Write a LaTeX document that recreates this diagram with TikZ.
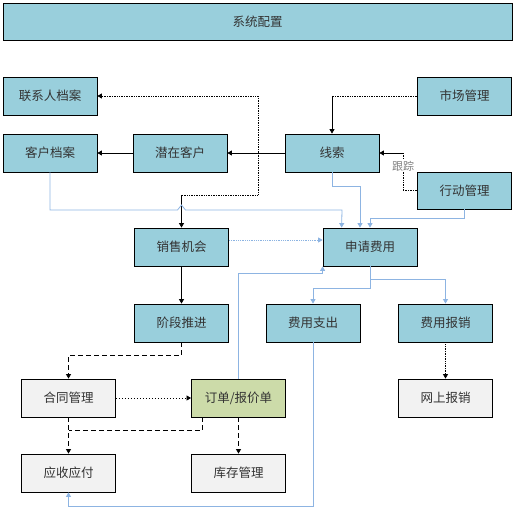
\documentclass[tikz,border=0pt]{standalone}
\usepackage{fontspec}
\newfontfamily\cjk{Noto Sans CJK SC}
\usetikzlibrary{arrows.meta,calc}
\definecolor{boxblue}{HTML}{99CFDC}
\definecolor{boxgray}{HTML}{F2F2F2}
\definecolor{boxgreen}{HTML}{CCDBA9}
\definecolor{linkblue}{HTML}{8DB4E2}
\definecolor{textgray}{HTML}{333333}
\tikzset{
    module/.style={rectangle, draw=black, line width=0.8pt, text=textgray, font=\cjk\fontsize{12.5}{14}\selectfont, minimum width=94pt, minimum height=38pt, inner sep=0pt, text centered},
    bluebox/.style={module, fill=boxblue},
    graybox/.style={module, fill=boxgray},
    greenbox/.style={module, fill=boxgreen},
    headarrow/.style={-{Triangle[length=4.5pt,width=5pt]}},
    solidlink/.style={draw=black, line width=0.7pt},
    dotlink/.style={draw=black, line width=0.7pt, densely dotted},
    looselink/.style={draw=black, line width=0.7pt, dash pattern=on 1pt off 2pt},
    dashlink/.style={draw=black, line width=0.8pt, dash pattern=on 5pt off 3pt},
    bluelink/.style={draw=linkblue, line width=0.8pt},
}
\begin{document}
\begin{tikzpicture}[x=1pt, y=-1pt]
    \useasboundingbox (0,0) rectangle (514,524);
    \node (sys) [bluebox, minimum width=509pt, minimum height=37pt] at (257.5,21.5) {系统配置};
    \node (lxr) [bluebox] at (50,96) {联系人档案};
    \node (khda) [bluebox] at (50,153) {客户档案};
    \node (qzkh) [bluebox] at (180,153) {潜在客户};
    \node (xs) [bluebox] at (332,153) {线索};
    \node (scgl) [bluebox] at (464.5,96) {市场管理};
    \node (xdgl) [bluebox, minimum height=37pt] at (464.5,190.5) {行动管理};
    \node (xsjh) [bluebox] at (181.5,247) {销售机会};
    \node (sqfy) [bluebox] at (370,247) {申请费用};
    \node (jdtj) [bluebox] at (181.5,323) {阶段推进};
    \node (fyzc) [bluebox] at (313,323) {费用支出};
    \node (fybx) [bluebox] at (445.5,323) {费用报销};
    \node (htgl) [graybox] at (68.5,398) {合同管理};
    \node (dd) [greenbox] at (238.5,398) {订单/报价单};
    \node (wsbx) [graybox] at (445.5,398) {网上报销};
    \node (ysyf) [graybox] at (68.5,473) {应收应付};
    \node (kcgl) [graybox] at (238.5,473) {库存管理};

    \coordinate (sc) at (scgl.west -| xs.north);
    \draw[dotlink] (scgl.west) -- (sc);
    \draw[solidlink, headarrow] (sc) -- (xs.north);
    \coordinate (gz) at (403,153);
    \draw[dotlink] (xdgl.west) -| (gz);
    \draw[solidlink, headarrow] (gz) -- (xs.east);
    \draw[solidlink, headarrow] (xs.west) -- (qzkh.east);
    \draw[solidlink, headarrow] (qzkh.west) -- (khda.east);
    \coordinate (br) at (258,153);
    \coordinate (jh) at (xsjh.north |- 0,195);
    \draw[dotlink, headarrow] (br) |- (lxr.east);
    \draw[dotlink] (br) |- (jh);
    \draw[solidlink, headarrow] (jh) -- (xsjh.north);

    \draw[bluelink, headarrow] (khda.south) |- (177.5,210) -- (181.5,205) -- (185.5,210) -- (342,210) -- ($(sqfy.north west)+(19,0)$);
    \draw[bluelink, headarrow] (xs.south) |- (360,186) -- ($(sqfy.north)+(-10,0)$);
    \draw[bluelink, headarrow] (xdgl.south) |- ($(sqfy.north)+(0,-9)$) -- (sqfy.north);
    \draw[bluelink, densely dotted, headarrow] ($(xsjh.east)+(0,-7)$) -- ($(sqfy.west)+(0,-7)$);
    \draw[bluelink, headarrow] (dd.north) |- ($(sqfy.south west)+(0,7)$) -- (sqfy.south west);
    \draw[bluelink, headarrow] (sqfy.south) |- ($(fyzc.north)+(0,-15)$) -- (fyzc.north);
    \draw[bluelink, headarrow] (sqfy.south) |- ($(fybx.north)+(0,-24)$) -- (fybx.north);
    \draw[bluelink, headarrow] (fyzc.south) |- ($(ysyf.south)+(0,14)$) -- (ysyf.south);
    \draw[dotlink, headarrow] (fybx.south) -- (wsbx.north);

    \draw[solidlink, headarrow] (xsjh.south) -- (jdtj.north);
    \draw[dashlink, headarrow] (jdtj.south) |- ($(htgl.north)+(0,-23)$) -- (htgl.north);
    \draw[looselink, headarrow] (htgl.east) -- (dd.west);
    \draw[dashlink, headarrow] (htgl.south) -- (ysyf.north);
    \draw[dashlink] ($(dd.south)+(-36,0)$) |- ($(ysyf.north)+(0,-23)$);
    \draw[dashlink, headarrow] (dd.south) -- (kcgl.north);

    \node (gzlabel) [fill=white, text=gray, font=\cjk\fontsize{11}{12}\selectfont, inner sep=1pt] at (403,166) {跟踪};
\end{tikzpicture}
\end{document}
